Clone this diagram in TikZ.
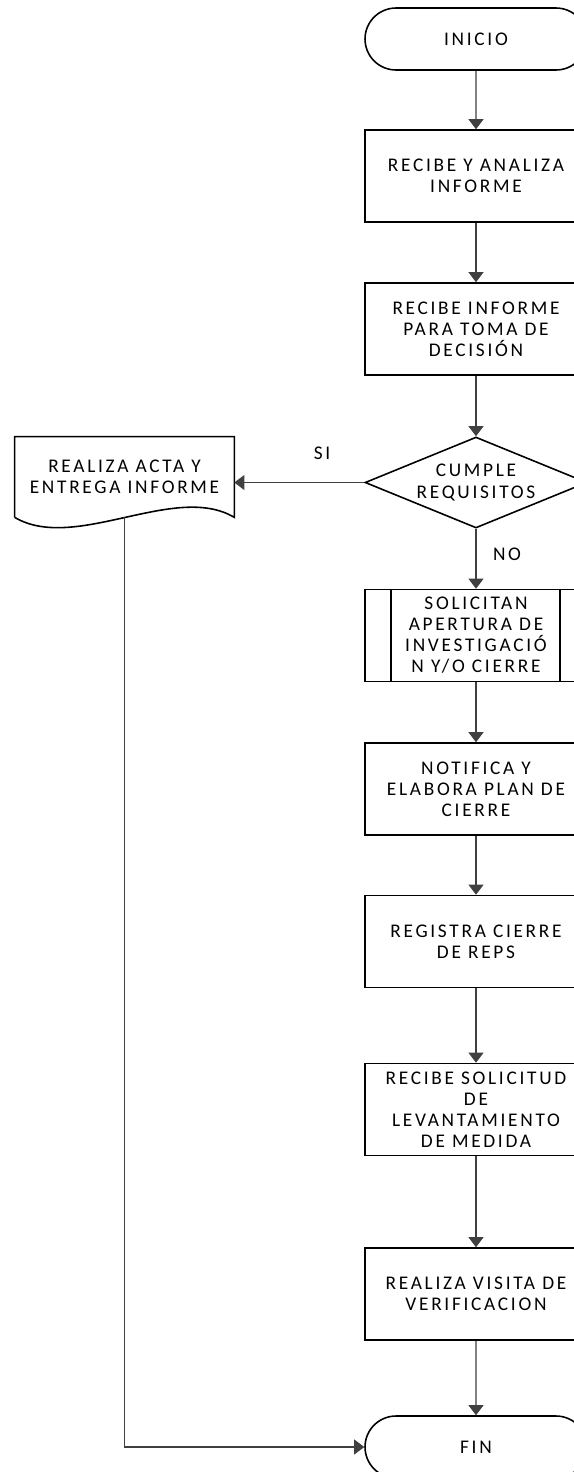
\documentclass[tikz,border=0pt]{standalone}
\usepackage{fontspec}
\setmainfont[LetterSpace=14]{Carlito}
\usetikzlibrary{shapes.geometric,shapes.misc,arrows.meta}
\begin{document}
\begin{tikzpicture}[x=0.02cm, y=-0.02cm]
\tikzset{ >={Triangle[length=5.7pt,width=8.5pt]},
  font=\fontsize{11}{12}\selectfont,
  proc/.style={draw, line width=0.9pt, rectangle, minimum width=4.44cm, minimum height=1.84cm, align=center, inner sep=0pt},
  term/.style={draw, line width=0.9pt, rounded rectangle, minimum width=4.44cm, minimum height=1.24cm, inner sep=0pt},
  deci/.style={draw, line width=0.9pt, diamond, minimum width=4.44cm, minimum height=1.82cm, inner sep=0pt},
  flow/.style={->, draw=black!75, line width=0.6pt},
}

\path [use as bounding box, clip] (0,0) rectangle (574,1472);

\node [term] (INI) at (476,39)     {INICIO};
\node [proc] (RA)  at (476,176)    {RECIBE Y ANALIZA\\INFORME};
\node [proc] (RI)  at (476,329)    {RECIBE INFORME\\PARA TOMA DE\\DECISIÓN};
\node [deci, label={[align=center]center:CUMPLE\\REQUISITOS}] (CR) at (476,482.5) {};
\node [proc] (SA)  at (476,635.5)  {SOLICITAN\\APERTURA DE\\INVESTIGACIÓ\\N Y/O CIERRE};
\node [proc] (NE)  at (476,789)    {NOTIFICA Y\\ELABORA PLAN DE\\CIERRE};
\node [proc] (RC)  at (476,941.5)  {REGISTRA CIERRE\\DE REPS};
\node [proc] (RS)  at (476,1109.5) {RECIBE SOLICITUD\\DE\\LEVANTAMIENTO\\DE MEDIDA};
\node [proc] (RV)  at (476,1294)   {REALIZA VISITA DE\\VERIFICACION};
\node [term] (FIN) at (476,1447)   {FIN};

% documento
\node [minimum width=4.38cm, minimum height=1.6cm, align=center, inner sep=0pt] (AE) at (124.5,477) {REALIZA ACTA Y\\ENTREGA INFORME};
\draw [line width=0.9pt] (AE.south west) -- (AE.north west) -- (AE.north east) -- (AE.south east)
   .. controls (175,482) and (75,553) .. (AE.south west);

% subproceso
\draw [line width=0.9pt] ([xshift=0.54cm]SA.north west) -- ([xshift=0.54cm]SA.south west);
\draw [line width=0.9pt] ([xshift=-0.56cm]SA.north east) -- ([xshift=-0.56cm]SA.south east);

\draw [flow] (INI) -- (RA);
\draw [flow] (RA)  -- (RI);
\draw [flow] (RI)  -- (CR);
\draw [flow] (CR)  -- (SA);
\draw [flow] (SA)  -- (NE);
\draw [flow] (NE)  -- (RC);
\draw [flow] (RC)  -- (RS);
\draw [flow] (RS)  -- (RV);
\draw [flow] (RV)  -- (FIN);
\draw [flow] (CR.west) -- (CR.west -| AE.east);
\draw [flow] (AE.south) |- (FIN.west);

\node (SI) at (322,453) {SI};
\node (NO) at (507,554) {NO};
\end{tikzpicture}
\end{document}
